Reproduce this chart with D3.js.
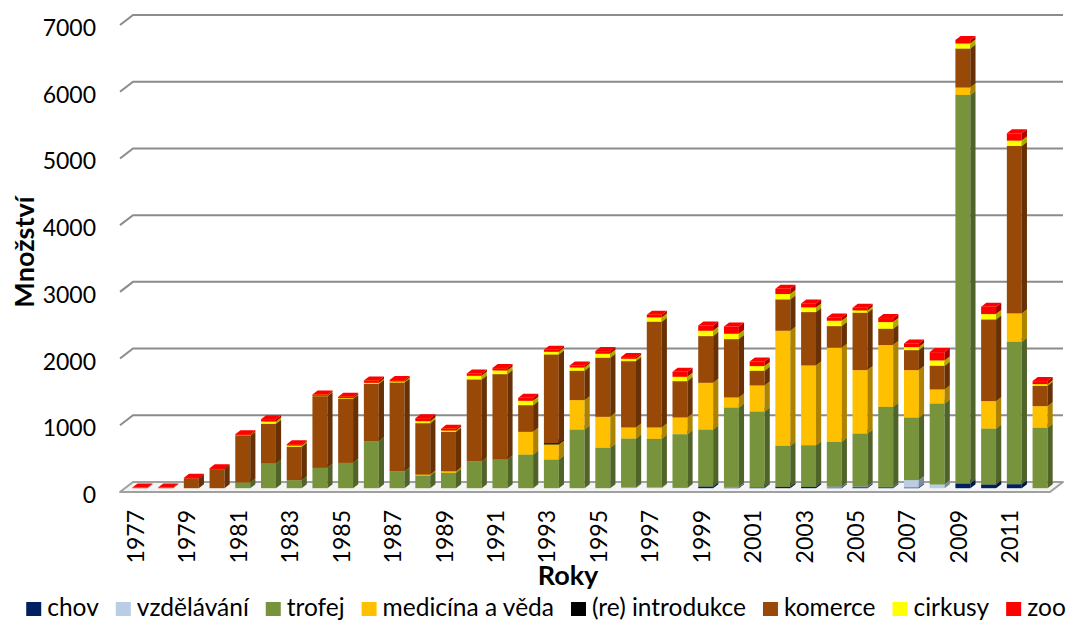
<!DOCTYPE html>
<html>
<head>
<meta charset="utf-8">
<script src="https://cdn.jsdelivr.net/npm/d3@7"></script>
<style>
  body { margin: 0; background: #fff; }
  svg text { font-family: Lato, "Open Sans", sans-serif; fill: #000; }
</style>
</head>
<body>
<div id="chart"></div>
<script>
var width = 1079,
    height = 625;

// data (1977 - 2012)
var years = d3.range(1977, 2013);
var seriesNames = ["chov", "vzdělávání", "trofej", "medicína a věda", "(re) introdukce", "komerce", "cirkusy", "zoo"];
var seriesColors = ["#002060", "#B9CDE5", "#77933C", "#FFC000", "#000000", "#984807", "#FFFF00", "#FF0000"];

var chov       = [0,0,0,0,0,0,0,0,0,0,0,0,0,0,0,0,0,0,0,0,0,0,25,10,10,20,20,10,15,15,10,0,70,55,60,0];
var vzdelavani = [0,0,0,0,0,0,0,0,0,0,0,0,0,0,0,0,0,0,0,10,10,5,0,10,0,0,0,15,10,5,110,55,0,0,0,0];
var trofej     = [0,0,0,0,85,370,120,305,380,705,255,190,230,405,430,505,430,880,605,735,730,805,855,1190,1140,615,625,670,795,1200,940,1215,5825,840,2135,905];
var medicina   = [0,0,0,0,0,0,0,0,0,0,0,15,25,0,0,340,225,440,465,165,170,250,700,150,390,1725,1195,1410,950,925,710,210,110,410,425,325];
var introdukce = [0,0,0,0,0,0,0,0,0,0,0,0,0,0,0,0,20,0,0,0,0,0,0,0,0,0,0,0,0,0,0,0,0,0,0,0];
var komerce    = [0,0,145,285,700,595,500,1075,960,860,1330,770,590,1225,1280,400,1330,440,885,995,1585,545,700,875,220,470,800,325,860,245,300,355,585,1225,2510,305];
var cirkusy    = [0,0,0,0,5,35,20,5,10,15,15,30,20,55,55,65,40,50,60,35,65,65,80,80,70,80,70,80,35,100,45,80,75,80,80,25];
var zoo        = [10,10,10,15,20,35,20,20,20,35,20,45,25,35,35,45,30,30,40,25,40,75,80,110,70,80,60,50,40,60,55,125,55,110,110,45];

var seriesValues = [chov, vzdelavani, trofej, medicina, introdukce, komerce, cirkusy, zoo];
var yTicks = [0, 1000, 2000, 3000, 4000, 5000, 6000, 7000];

var rows = years.map(function(yr, i) {
    var r = { year: yr };
    seriesNames.forEach(function(n, k) { r[n] = seriesValues[k][i]; });
    return r;
});
var stacked = d3.stack().keys(seriesNames)(rows);

var svg = d3.select("#chart")
    .append("svg")
    .attr("width", width)
    .attr("height", height);

// 3d depth of the plot box
var depthX = 13,
    depthY = 10;
var barFront = 0.38,
    barBack = 0.78;

var x = d3.scaleBand()
    .domain(years)
    .range([120, 1050])
    .paddingInner(0.42)
    .paddingOuter(0.29);

var y = d3.scaleLinear()
    .domain([0, 7000])
    .range([492, 25]);

// floor
var floorPts = [[120, y(0)], [1050, y(0)], [1050 + depthX, y(0) - depthY], [120 + depthX, y(0) - depthY]];
svg.append("polygon")
    .attr("points", floorPts.map(function(p) { return p.join(","); }).join(" "))
    .attr("fill", "#f4f4f4")
    .attr("stroke", "#a0a0a0")
    .attr("stroke-width", 2)
    .attr("stroke-linejoin", "round");

// grid lines on side and back wall
var grid = svg.append("g");
yTicks.filter(function(t) { return t > 0; }).forEach(function(t) {
    grid.append("path")
        .attr("d", "M120," + y(t) + "L" + (120 + depthX) + "," + (y(t) - depthY) + "L" + (1050 + depthX) + "," + (y(t) - depthY))
        .attr("fill", "none")
        .attr("stroke", "#8c8c8c")
        .attr("stroke-width", 2);
});

// bars
var fx = barFront * depthX, fy = barFront * depthY;
var bdx = (barBack - barFront) * depthX, bdy = (barBack - barFront) * depthY;
var bw = x.bandwidth();

var barsG = svg.append("g");
years.forEach(function(yr, i) {
    var g = barsG.append("g");
    var x0 = x(yr) + fx;
    stacked.forEach(function(layer, k) {
        var d = layer[i];
        if (d[1] - d[0] <= 0) return;
        var c = seriesColors[k];
        var yTop = y(d[1]) - fy,
            yBot = y(d[0]) - fy;
        // front
        g.append("rect")
            .attr("x", x0)
            .attr("y", yTop)
            .attr("width", bw)
            .attr("height", yBot - yTop)
            .attr("fill", c);
        // side
        g.append("polygon")
            .attr("points", [[x0 + bw, yBot], [x0 + bw + bdx, yBot - bdy], [x0 + bw + bdx, yTop - bdy], [x0 + bw, yTop]].join(" "))
            .attr("fill", d3.color(c).darker(1.1));
        // top
        g.append("polygon")
            .attr("points", [[x0, yTop], [x0 + bw, yTop], [x0 + bw + bdx, yTop - bdy], [x0 + bdx, yTop - bdy]].join(" "))
            .attr("fill", d3.color(c).brighter(0.15));
    });
});

// y axis labels
svg.append("g").selectAll("text")
    .data(yTicks)
    .enter().append("text")
    .attr("x", 96)
    .attr("y", function(d) { return y(d) + 2; })
    .attr("text-anchor", "end")
    .attr("dominant-baseline", "central")
    .style("font-size", "23px")
    .text(function(d) { return d; });

// x axis labels (every other year)
svg.append("g").selectAll("text")
    .data(years.filter(function(d, i) { return i % 2 === 0; }))
    .enter().append("text")
    .attr("transform", function(d) { return "translate(" + (x(d) + bw / 2) + ",510) rotate(-90)"; })
    .attr("text-anchor", "end")
    .attr("dominant-baseline", "central")
    .style("font-size", "23px")
    .text(function(d) { return d; });

// axis titles
svg.append("text")
    .attr("transform", "translate(23,252) rotate(-90)")
    .attr("text-anchor", "middle")
    .attr("dominant-baseline", "central")
    .style("font-size", "27px")
    .style("font-weight", "bold")
    .text("Množství");

svg.append("text")
    .attr("x", 568)
    .attr("y", 585)
    .attr("text-anchor", "middle")
    .style("font-size", "27px")
    .style("font-weight", "bold")
    .text("Roky");

// legend
var legend = svg.append("g");
var cursor = 0;
seriesNames.forEach(function(n, k) {
    var item = legend.append("g").attr("transform", "translate(" + cursor + ",0)");
    item.append("rect")
        .attr("x", 0)
        .attr("y", 602)
        .attr("width", 15)
        .attr("height", 14)
        .attr("fill", seriesColors[k]);
    var t = item.append("text")
        .attr("x", 21)
        .attr("y", 616)
        .style("font-size", "24.5px")
        .text(n);
    cursor += 21 + t.node().getComputedTextLength() + 17;
});
var legendW = cursor - 17;
legend.attr("transform", "translate(" + (546 - legendW / 2) + ",0)");
</script>
</body>
</html>
